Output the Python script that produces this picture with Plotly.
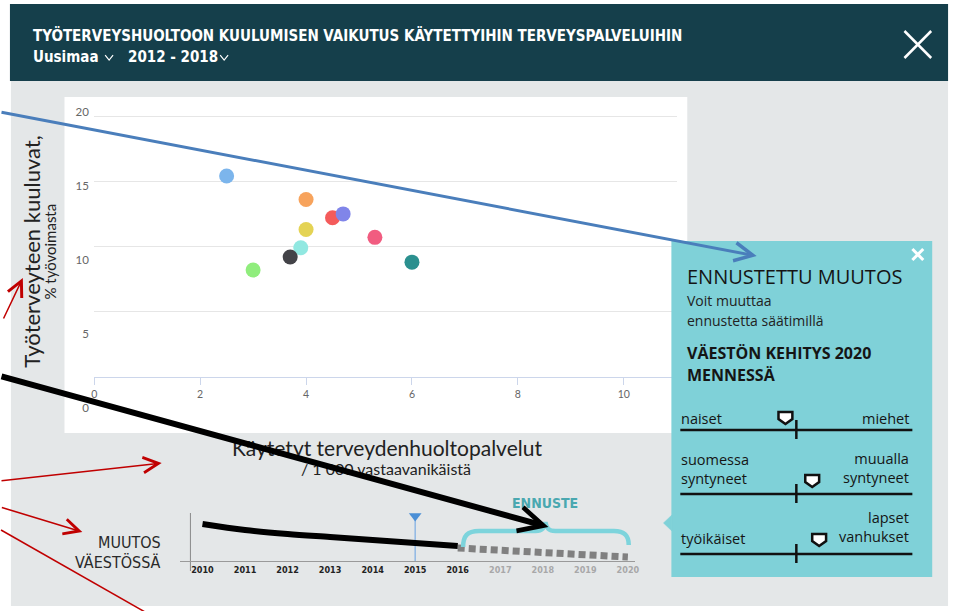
import plotly.graph_objects as go

W, H = 961, 611

# ---------------- data ----------------
group_x = [2.5, 4.0, 4.5, 4.7, 4.0, 3.9, 3.7, 3.0, 5.3, 6.0]
group_y = [15.4, 13.6, 12.2, 12.5, 11.3, 9.9, 9.2, 8.2, 10.7, 8.8]
group_colors = ["#7cb5ec", "#f7a35c", "#f45b5b", "#8085e9", "#e4d354",
                "#91e8e1", "#434348", "#90ed7d", "#f15c80", "#2b908f"]
x_ticks = [0, 2, 4, 6, 8, 10]
y_ticks = [0, 5, 10, 15, 20]

hist_years = [2010, 2011, 2012, 2013, 2014, 2015, 2016]
hist_values = [37, 31, 27, 24, 21, 18, 15]
fc_years = [2016, 2017, 2018, 2019, 2020]
fc_values = [13, 11, 9, 7, 4]
all_years = list(range(2010, 2021))
selected_year = 2015

slider_left = ["naiset", "suomessa<br>syntyneet", "työikäiset"]
slider_right = ["miehet", "muualla<br>syntyneet", "lapset<br>vanhukset"]

# ---------------- helpers ----------------
def X(p):
    return p / W

def Y(p):
    return 1 - p / H

shapes = []
annotations = []

def rect(x0, y0, x1, y1, fill, layer="below"):
    shapes.append(dict(type="rect", xref="paper", yref="paper",
                       x0=X(x0), x1=X(x1), y0=Y(y1), y1=Y(y0),
                       fillcolor=fill, line=dict(width=0), layer=layer))

def seg(x0, y0, x1, y1, color, width, layer="above"):
    shapes.append(dict(type="line", xref="paper", yref="paper",
                       x0=X(x0), y0=Y(y0), x1=X(x1), y1=Y(y1),
                       line=dict(color=color, width=width), layer=layer))

def path(cmds, fill=None, color="black", width=1, layer="above"):
    parts = []
    for c, pts in cmds:
        step = 3 if c == "C" else 1
        for i in range(0, len(pts), step):
            grp = pts[i:i + step]
            parts.append(c + " " + " ".join(f"{X(a):.5f},{Y(b):.5f}" for a, b in grp))
    d = " ".join(parts)
    if fill:
        d += " Z"
    shapes.append(dict(type="path", xref="paper", yref="paper", path=d,
                       fillcolor=fill if fill else "rgba(0,0,0,0)",
                       line=dict(color=color, width=width), layer=layer))

def text(x, y, s, size, color, family, xanchor="left", yanchor="middle",
         weight="normal", angle=0, align="left"):
    annotations.append(dict(xref="paper", yref="paper", x=X(x), y=Y(y), text=s,
                            showarrow=False, xanchor=xanchor, yanchor=yanchor,
                            align=align, textangle=angle, borderpad=0,
                            font=dict(size=size, color=color, family=family,
                                      weight=weight)))

def arrow(tx, ty, tip_x, tip_y, color, width, size, head=5):
    annotations.append(dict(xref="paper", yref="paper", x=X(tip_x), y=Y(tip_y),
                            axref="pixel", ayref="pixel",
                            ax=tx - tip_x, ay=ty - tip_y, text="",
                            showarrow=True, arrowhead=head, arrowsize=size,
                            arrowwidth=width, arrowcolor=color, standoff=0))

COND = "Liberation Sans Narrow, DejaVu Sans Condensed, Roboto, sans-serif"
SANS = "Open Sans, Noto Sans, sans-serif"
LATO = "Lato, Open Sans, sans-serif"

# ---------------- background ----------------
rect(8, 80, 953, 606, "#e4e7e8")
rect(7, 4, 953, 81, "#153f4b")
rect(62, 97, 690, 433, "#ffffff")

# header
text(29, 35, "TYÖTERVEYSHUOLTOON KUULUMISEN VAIKUTUS KÄYTETTYIHIN TERVEYSPALVELUIHIN",
     15, "#ffffff", COND, weight="bold")
text(29, 57, "Uusimaa", 15, "#ffffff", COND, weight="bold")
text(125, 57, "2012 - 2018", 15, "#ffffff", COND, weight="bold")
path([("M", [(103, 55)]), ("L", [(107, 60), (111, 55)])], color="#ffffff", width=1.2)
path([("M", [(219, 55)]), ("L", [(223, 60), (227, 55)])], color="#ffffff", width=1.2)
seg(909, 31, 936, 58, "#ffffff", 2.5)
seg(909, 58, 936, 31, "#ffffff", 2.5)

# axis titles
text(28, 252, "Työterveyteen kuuluvat,", 22, "#222222", LATO, xanchor="center", angle=-90)
text(47, 252, "% työvoimasta", 15, "#222222", LATO, xanchor="center", angle=-90)
text(387, 447, "Käytetyt terveydenhuoltopalvelut", 21, "#222222", LATO, xanchor="center")
text(386, 468, "/ 1 000 vastaavanikäistä", 16, "#222222", LATO, xanchor="center")

# ---------------- forecast panel ----------------
rect(674, 241, 937, 577, "#7fd1d8", layer="above")
path([("M", [(674.5, 515)]), ("L", [(666, 523), (674.5, 531)])], fill="#7fd1d8",
     color="#7fd1d8", width=0.5)
seg(917, 249, 928, 260, "#ffffff", 3)
seg(917, 260, 928, 249, "#ffffff", 3)
text(689, 276, "ENNUSTETTU MUUTOS", 20, "#151515", SANS, weight=500)
text(689, 300, "Voit muuttaa", 14, "#222222", SANS)
text(689, 320, "ennustetta säätimillä", 14, "#222222", SANS)
text(689, 353, "VÄESTÖN KEHITYS 2020", 16, "#151515", SANS, weight="bold")
text(689, 375, "MENNESSÄ", 16, "#151515", SANS, weight="bold")

slider_lines = [430, 494, 554]
slider_marks = [(789, 418), (816, 481), (823, 540)]
left_centers = [418, 469, 538]
right_centers = [418, 468, 527]
for lft, rgt, ly, (mx, my), lc, rc in zip(slider_left, slider_right, slider_lines,
                                          slider_marks, left_centers, right_centers):
    seg(683, ly, 917, ly, "#111111", 2.5)
    seg(800, ly - 10, 800, ly + 9, "#111111", 2.5)
    path([("M", [(mx - 7, my - 6)]),
          ("L", [(mx + 7, my - 6), (mx + 7, my + 1), (mx, my + 6), (mx - 7, my + 1)])],
         fill="#ffffff", color="#111111", width=2.5)
    text(683, lc, lft, 14.5, "#151515", SANS, align="left")
    text(915, rc, rgt, 14.5, "#151515", SANS, xanchor="right", align="right")

# ---------------- mini chart decorations ----------------
seg(189, 513, 189, 571, "#8a8a8a", 1, layer="below")
text(160, 542, "MUUTOS", 16, "#2a2a2a", COND, xanchor="right")
text(160, 562, "VÄESTÖSSÄ", 16, "#2a2a2a", COND, xanchor="right")
text(547, 503, "ENNUSTE", 14, "#4aa8b0", COND, xanchor="center", weight="bold")
path([("M", [(464, 547)]),
      ("C", [(464, 536), (468, 531), (480, 531)]),
      ("L", [(537, 531)]),
      ("C", [(544, 531), (546, 528), (547, 522)]),
      ("C", [(548, 528), (550, 531), (557, 531)]),
      ("L", [(616, 531)]),
      ("C", [(627, 531), (631, 536), (631, 545)])],
     color="#7dd4dc", width=4.5)
shapes.append(dict(type="line", xref="x3", yref="y3", x0=selected_year, x1=selected_year,
                   y0=0, y1=43, line=dict(color="#8fb8e4", width=1.5), layer="below"))

# ---------------- traces ----------------
fig = go.Figure()
fig.add_trace(go.Scatter(x=group_x, y=group_y, mode="markers",
                         marker=dict(size=15, color=group_colors, line=dict(width=0)),
                         xaxis="x", yaxis="y", showlegend=False, hoverinfo="x+y"))
fig.add_trace(go.Scatter(x=[None], y=[None], xaxis="x", yaxis="y2", showlegend=False))
fig.add_trace(go.Scatter(x=fc_years, y=fc_values, mode="lines",
                         line=dict(color="#808080", width=7, dash="7px,4px"),
                         xaxis="x3", yaxis="y3", showlegend=False))
fig.add_trace(go.Scatter(x=hist_years, y=hist_values, mode="lines",
                         line=dict(color="#000000", width=6, shape="spline"),
                         xaxis="x3", yaxis="y3", showlegend=False))
fig.add_trace(go.Scatter(x=[selected_year], y=[45], mode="markers",
                         marker=dict(symbol="triangle-down", size=11, color="#4a8fd6"),
                         xaxis="x3", yaxis="y3", showlegend=False))

# ---------------- arrows (overlay) ----------------
arrow(-5, 112, 760, 256, "#4a7ebb", 3, 1.2)
arrow(0, 320, 20, 278, "#c00000", 1.5, 2)
arrow(-2, 481, 160, 463, "#c00000", 1.5, 2)
arrow(-2, 507, 80, 532, "#c00000", 1.5, 2)
seg(-2, 530, 145, 613, "#c00000", 1.5)
arrow(-5, 376, 550, 527, "#000000", 6, 0.8)

# ---------------- axes ----------------
px_per_unit = (377 - 116) / 20.0
y_lo = -(420 - 377) / px_per_unit
y_hi = 20 + (116 - 105) / px_per_unit
lbl_per_unit = (408 - 112) / 20.0
y2_lo = (408 - 420) / lbl_per_unit
y2_hi = (408 - 105) / lbl_per_unit
x_hi = (680 - 92) / ((626 - 92) / 10.0)

tick_text = [f"<span style='color:{'#222222' if yr <= 2016 else '#a8a8a8'}'>{yr}</span>"
             for yr in all_years]

fig.update_layout(
    width=W, height=H, autosize=False,
    margin=dict(l=0, r=0, t=0, b=0, pad=0),
    paper_bgcolor="#ffffff", plot_bgcolor="rgba(0,0,0,0)",
    font=dict(family=SANS),
    xaxis=dict(domain=[X(92), X(680)], range=[0, x_hi], anchor="free",
               position=Y(377), showline=True, linecolor="#ccd6eb", linewidth=1,
               ticks="outside", tickcolor="#ccd6eb", ticklen=7, tickvals=x_ticks,
               showgrid=False, zeroline=False,
               tickfont=dict(size=10.5, color="#666666", family=LATO)),
    yaxis=dict(domain=[Y(420), Y(105)], range=[y_lo, y_hi], anchor="x",
               tickvals=y_ticks, showticklabels=False, showgrid=True,
               gridcolor="#e6e6e6", gridwidth=1, zeroline=False, showline=False),
    yaxis2=dict(overlaying="y", anchor="x", side="left", range=[y2_lo, y2_hi],
                tickvals=y_ticks, showgrid=False, zeroline=False, showline=False,
                ticks="outside", ticklen=2, tickcolor="rgba(0,0,0,0)",
                tickfont=dict(size=11.5, color="#666666", family=LATO)),
    xaxis3=dict(domain=[X(178), X(637)], range=[2009.46, 2020.16], anchor="y3",
                showline=True, linecolor="#9a9a9a", linewidth=1, showgrid=False,
                zeroline=False, tickvals=all_years, ticktext=tick_text,
                ticks="", tickfont=dict(size=9, family=COND, weight="bold")),
    yaxis3=dict(domain=[Y(561), Y(500)], range=[0, 61], anchor="x3", visible=False),
    shapes=shapes,
    annotations=annotations,
)

fig.write_html("out.html", config={"displayModeBar": False},
               post_script="document.body.style.margin='0';document.body.style.overflow='hidden';")
